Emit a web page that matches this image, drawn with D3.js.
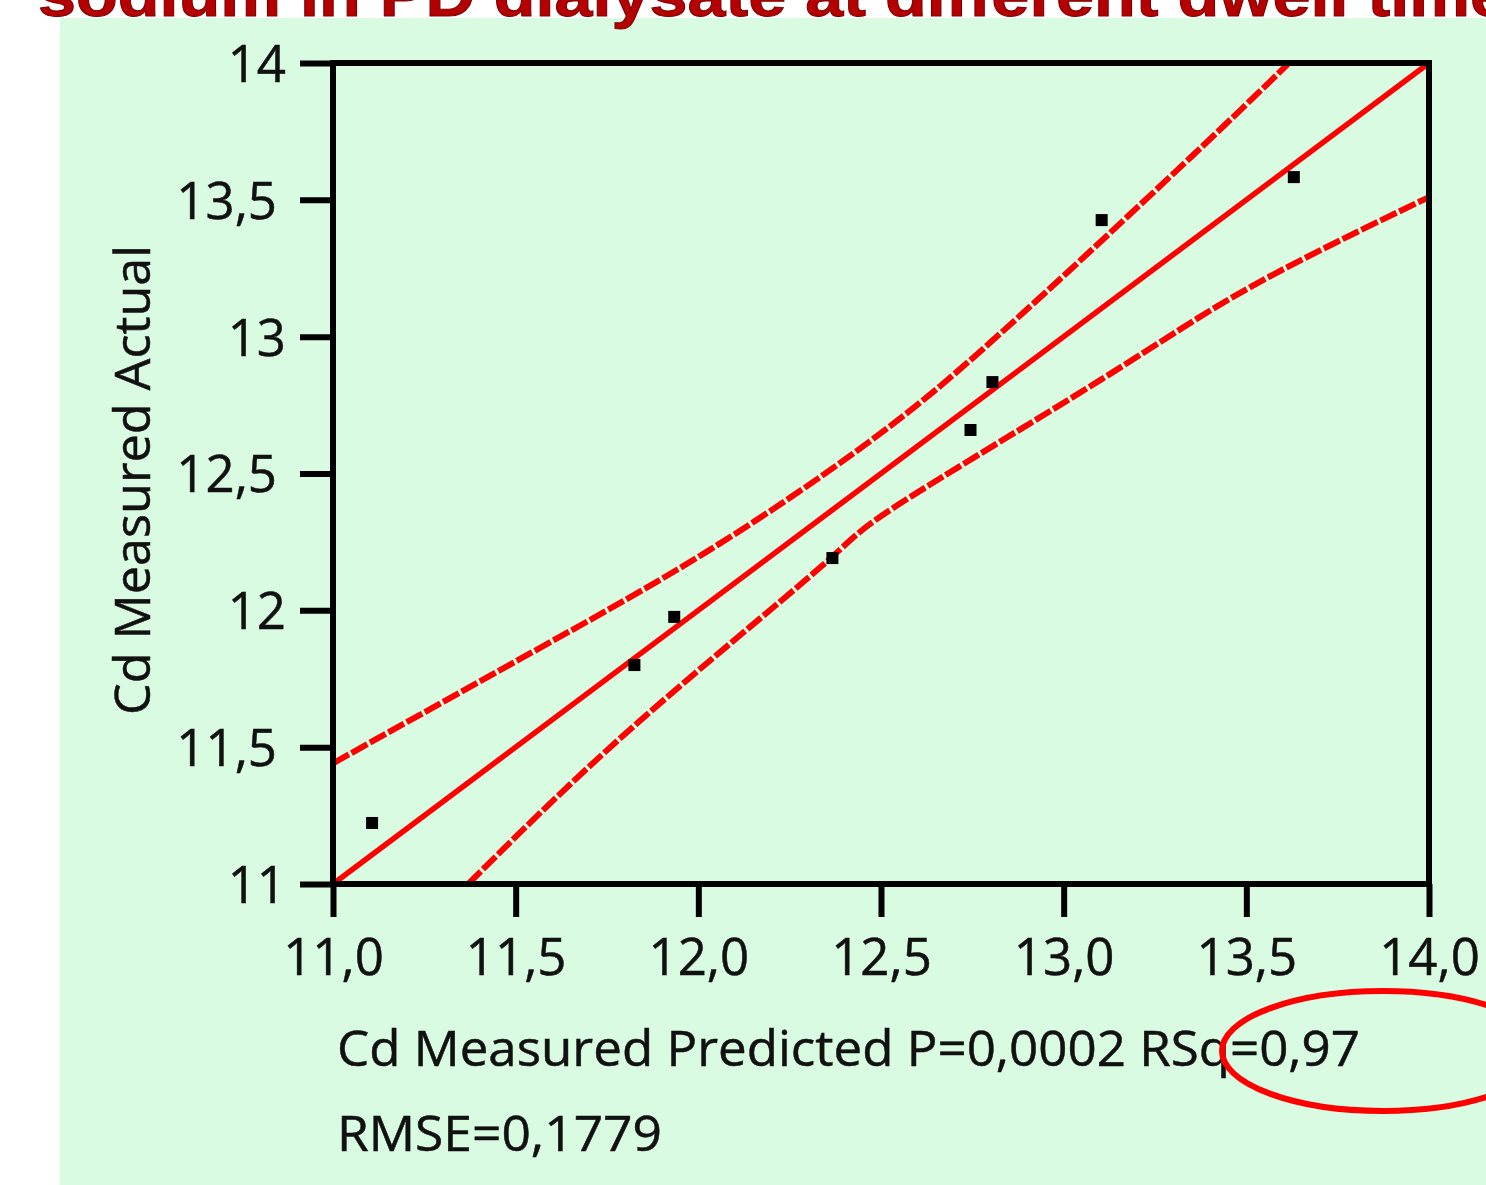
<!DOCTYPE html>
<html>
<head>
<meta charset="utf-8">
<script src="https://cdn.jsdelivr.net/npm/d3@7"></script>
<style>
  html, body { margin: 0; padding: 0; background: #ffffff; }
  svg { display: block; }
</style>
</head>
<body>
<svg id="chart" width="1486" height="1185"></svg>
<script>
// ---------- data ----------
const titleText = "sodium in PD dialysate at different dwell time";
const xLabel = "Cd Measured Predicted P=0,0002 RSq=0,97";
const statLabel = "RMSE=0,1779";
const yLabel = "Cd Measured Actual";

const xTicks = [11.0, 11.5, 12.0, 12.5, 13.0, 13.5, 14.0];
const xTickLabels = ["11,0", "11,5", "12,0", "12,5", "13,0", "13,5", "14,0"];
const yTicks = [11, 11.5, 12, 12.5, 13, 13.5, 14];
const yTickLabels = ["11", "11,5", "12", "12,5", "13", "13,5", "14"];

// measured points (predicted, actual)
const predicted = [11.107, 11.825, 11.934, 12.367, 12.745, 12.805, 13.104, 13.630];
const actual    = [11.223, 11.800, 11.976, 12.191, 12.659, 12.834, 13.426, 13.583];

// line of fit
const fitX = [11.0, 14.0];
const fitY = [11.0, 14.0];

// confidence curves
const upperBandX = [11.0, 11.548, 12.03, 12.462, 12.827, 13.33, 13.613];
const upperBandY = [11.441, 11.849, 12.22, 12.61, 13.012, 13.633, 13.995];
const lowerBandX = [11.37, 11.822, 12.325, 12.553, 13.101, 13.512, 14.0];
const lowerBandY = [11.0, 11.575, 12.147, 12.391, 12.842, 13.182, 13.51];

// ---------- drawing ----------
(function () {
const svg = d3.select("#chart");
const W = 1486, H = 1185;
const FONT = "'Open Sans', 'Noto Sans', sans-serif";
const INK = "#111111";

// background panel
svg.append("rect").attr("x", 60).attr("y", 18).attr("width", W - 60).attr("height", H - 18)
  .attr("fill", "#d9fbe1");

// cut-off title (only its lower part is inside the picture)
svg.append("text").attr("x", 38).attr("y", 16)
  .attr("font-family", "'Liberation Sans', Arial, sans-serif")
  .attr("font-weight", "bold").attr("font-size", 62)
  .attr("fill", "#b40000").attr("stroke", "#7a0000").attr("stroke-width", 1)
  .attr("textLength", 1470).attr("lengthAdjust", "spacingAndGlyphs")
  .text(titleText);

const pL = 333, pR = 1429, pT = 63, pB = 884;
const x = d3.scaleLinear().domain([11, 14]).range([pL, pR]);
const y = d3.scaleLinear().domain([11, 14]).range([pB, pT]);

svg.append("defs").append("clipPath").attr("id", "plotClip").append("rect")
  .attr("x", pL).attr("y", pT).attr("width", pR - pL).attr("height", pB - pT);

const plot = svg.append("g").attr("clip-path", "url(#plotClip)");

// confidence curves
const bandLine = d3.line().x(d => x(d[0])).y(d => y(d[1])).curve(d3.curveNatural);
[[upperBandX, upperBandY], [lowerBandX, lowerBandY]].forEach(([bx, by]) => {
  plot.append("path").datum(bx.map((v, i) => [v, by[i]]))
    .attr("d", bandLine).attr("fill", "none").attr("stroke", "#ff0000")
    .attr("stroke-width", 6).attr("stroke-dasharray", "18,3");
});

// fit line
plot.append("path").datum(fitX.map((v, i) => [v, fitY[i]]))
  .attr("d", d3.line().x(d => x(d[0])).y(d => y(d[1])))
  .attr("fill", "none").attr("stroke", "#ff0000").attr("stroke-width", 5.5);

// points
const ms = 12;
plot.selectAll("rect.pt").data(predicted.map((v, i) => [v, actual[i]])).enter()
  .append("rect").attr("class", "pt")
  .attr("x", d => x(d[0]) - ms / 2).attr("y", d => y(d[1]) - ms / 2)
  .attr("width", ms).attr("height", ms).attr("fill", "#000");

// frame
svg.append("rect").attr("x", pL).attr("y", pT).attr("width", pR - pL).attr("height", pB - pT)
  .attr("fill", "none").attr("stroke", "#000").attr("stroke-width", 6);

// axes
const xAxis = d3.axisBottom(x).tickValues(xTicks)
  .tickFormat((d, i) => xTickLabels[i]).tickSize(33).tickSizeOuter(0);
const gx = svg.append("g").attr("transform", `translate(0,${pB})`).call(xAxis);
gx.select(".domain").remove();
gx.selectAll(".tick line").attr("stroke", "#000").attr("stroke-width", 6);
gx.selectAll(".tick text").attr("y", 91).attr("dy", 0)
  .attr("font-family", FONT).attr("font-size", 51).attr("fill", INK)
  .attr("stroke", INK).attr("stroke-width", 0.5);

const yAxis = d3.axisLeft(y).tickValues(yTicks)
  .tickFormat((d, i) => yTickLabels[i]).tickSize(33).tickSizeOuter(0);
const gy = svg.append("g").attr("transform", `translate(${pL},0)`).call(yAxis);
gy.select(".domain").remove();
gy.selectAll(".tick line").attr("stroke", "#000").attr("stroke-width", 6);
gy.selectAll(".tick text")
  .attr("x", (d, i) => yTickLabels[i].indexOf(",") >= 0 ? -56 : -47)
  .attr("dy", "0.36em")
  .attr("font-family", FONT).attr("font-size", 51).attr("fill", INK)
  .attr("stroke", INK).attr("stroke-width", 0.5);

// y label
svg.append("text").attr("transform", `translate(150,480) rotate(-90)`)
  .attr("text-anchor", "middle").attr("font-family", FONT).attr("font-size", 50)
  .attr("textLength", 470).attr("lengthAdjust", "spacingAndGlyphs")
  .attr("fill", INK).attr("stroke", INK).attr("stroke-width", 0.5).text(yLabel);

// x label lines
svg.append("text").attr("x", 337).attr("y", 1066)
  .attr("font-family", FONT).attr("font-size", 50)
  .attr("textLength", 1023).attr("lengthAdjust", "spacingAndGlyphs")
  .attr("fill", INK).attr("stroke", INK).attr("stroke-width", 0.5).text(xLabel);
svg.append("text").attr("x", 337).attr("y", 1151)
  .attr("font-family", FONT).attr("font-size", 50)
  .attr("textLength", 325).attr("lengthAdjust", "spacingAndGlyphs")
  .attr("fill", INK).attr("stroke", INK).attr("stroke-width", 0.5).text(statLabel);

// red highlight ellipse
svg.append("ellipse").attr("cx", 1383).attr("cy", 1051).attr("rx", 161).attr("ry", 60)
  .attr("fill", "none").attr("stroke", "#ff0000").attr("stroke-width", 6);
})();
</script>
</body>
</html>
